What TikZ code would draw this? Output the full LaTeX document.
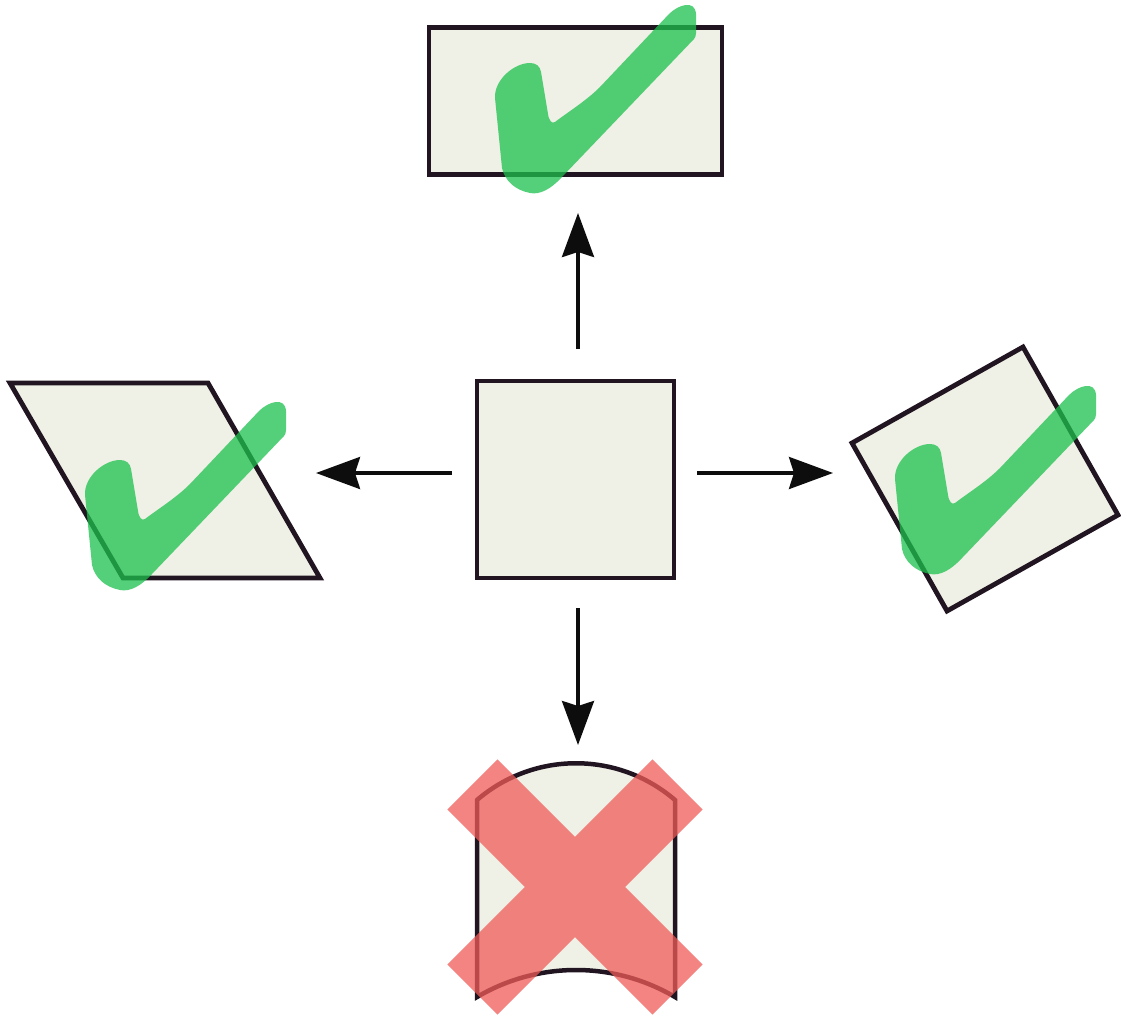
\documentclass[tikz,border=0pt]{standalone}
\usetikzlibrary{arrows.meta}
\definecolor{shapefill}{HTML}{EFF0E6}
\definecolor{shapeline}{HTML}{201520}
\definecolor{okgreen}{HTML}{1CC04D}
\definecolor{badred}{HTML}{F05B58}
\tikzset{
  shapebox/.style={draw=shapeline, fill=shapefill, line width=4.8pt, line join=miter},
  flowarrow/.style={draw=black!95, line width=3.5pt, -{Stealth[length=44pt, width=32pt, inset=5pt]}},
  checkmark/.style={fill=okgreen, fill opacity=0.75},
  crossmark/.style={fill=badred, fill opacity=0.75},
}
\begin{document}
\begin{tikzpicture}[x=1pt, y=-1pt]
\useasboundingbox (0,0) rectangle (1121,1017);

% central square
\node[shapebox, minimum width=197pt, minimum height=197pt, inner sep=0pt] (center) at (575.5,479.5) {};
% top rectangle (translation)
\node[shapebox, minimum width=293pt, minimum height=147pt, inner sep=0pt] (top) at (575.5,101) {};
% left parallelogram (shear)
\draw[shapebox] (10,383) -- (208,383) -- (320,578) -- (123,578) -- cycle;
% right rotated square
\draw[shapebox] (852,443) -- (1023,347) -- (1118,515) -- (947,611) -- cycle;
% bottom curved shape
\draw[shapebox, line width=4.5pt] (477,997) -- (477,800) .. controls (534,751) and (618,751) .. (675,800) -- (675,997) .. controls (614,961) and (538,961) .. (477,997) -- cycle;

% connectors
\coordinate (upS) at (578,349);
\coordinate (upE) at (578,213);
\coordinate (leftS) at (452,473);
\coordinate (leftE) at (316,473);
\coordinate (rightS) at (697,473);
\coordinate (rightE) at (833,473);
\coordinate (downS) at (578,608);
\coordinate (downE) at (578,745);
\draw[flowarrow] (upS) -- (upE);
\draw[flowarrow] (leftS) -- (leftE);
\draw[flowarrow] (rightS) -- (rightE);
\draw[flowarrow] (downS) -- (downE);

% check marks
\foreach \dx/\dy in {0/0, -410/397, 400/381} {
  \fill[checkmark, shift={(\dx pt,-\dy pt)}]
    (555,122) .. controls (568,112) and (586,101) .. (600,87)
    -- (669,14) .. controls (678,5) and (695,-1) .. (696,14)
    -- (696,33) .. controls (696,36) and (695,38) .. (694,39)
    -- (562,177) .. controls (551,189) and (540,195) .. (530,193)
    .. controls (515,190) and (505,181) .. (502,168)
    -- (495,98) .. controls (494,80) and (514,63) .. (530,63)
    .. controls (536,63) and (540,66) .. (541,72)
    -- (548,114) .. controls (549,121) and (552,124) .. (555,122) -- cycle;
}

% cross mark
\begin{scope}[shift={(575pt,-887pt)}, rotate=45]
\fill[crossmark] (145,35.5) -- (35.5,35.5) -- (35.5,145) -- (-35.5,145) -- (-35.5,35.5) -- (-145,35.5)
  -- (-145,-35.5) -- (-35.5,-35.5) -- (-35.5,-145) -- (35.5,-145) -- (35.5,-35.5) -- (145,-35.5) -- cycle;
\end{scope}
\end{tikzpicture}
\end{document}
